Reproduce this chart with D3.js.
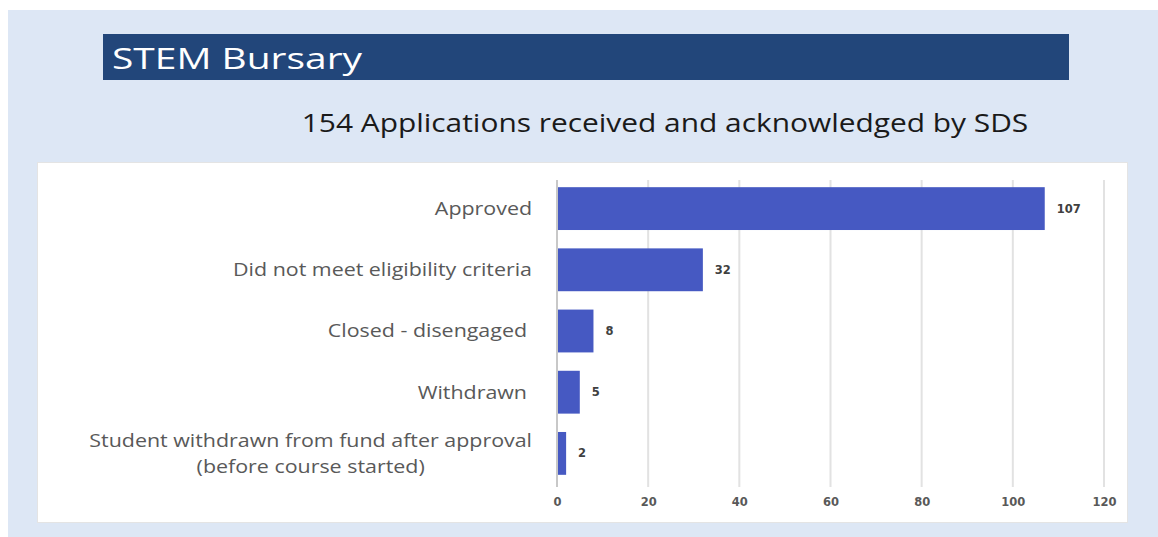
<!DOCTYPE html>
<html>
<head>
<meta charset="utf-8">
<script src="https://cdn.jsdelivr.net/npm/d3@7"></script>
<style>
  body { margin: 0; background: #fff; }
  svg { display: block; }
</style>
</head>
<body>
<script>
// ---- data ----
var categories = [
  "Approved",
  "Did not meet eligibility criteria",
  "Closed - disengaged",
  "Withdrawn",
  "Student withdrawn from fund after approval|(before course started)"
];
var values = [107, 32, 8, 5, 2];
var xTicks = [0, 20, 40, 60, 80, 100, 120];
var titleText = "STEM Bursary";
var subtitleText = "154 Applications received and acknowledged by SDS";

var width = 1158, height = 537;
var barColor = "#4659c2";
var labelColor = "#595959";
var font = "'Open Sans', sans-serif";
var numFont = "'DejaVu Sans', sans-serif";

// the source image is a bit stretched sideways, so text gets a horizontal scale
function stretch(sel, ax, sx) {
  sel.attr("transform", "translate(" + ax + ",0) scale(" + sx + ",1) translate(" + (-ax) + ",0)");
}

var svg = d3.select("body").append("svg")
    .attr("width", width)
    .attr("height", height);

// blue panel
svg.append("rect")
    .attr("x", 8).attr("y", 10)
    .attr("width", width - 8).attr("height", height - 10)
    .attr("fill", "#dde7f5");

// title bar
svg.append("rect")
    .attr("x", 103).attr("y", 34)
    .attr("width", 966).attr("height", 46)
    .attr("fill", "#22467a");

svg.append("text")
    .attr("x", 112).attr("y", 69)
    .attr("fill", "#fff")
    .attr("font-family", font)
    .style("font-size", "29.5px")
    .text(titleText)
    .call(stretch, 112, 1.32);

svg.append("text")
    .attr("x", 665).attr("y", 132)
    .attr("text-anchor", "middle")
    .attr("fill", "#1a1a1a")
    .attr("font-family", font)
    .style("font-size", "26px")
    .text(subtitleText)
    .call(stretch, 665, 1.15);

// white chart box
svg.append("rect")
    .attr("x", 37.5).attr("y", 162.5)
    .attr("width", 1090).attr("height", 360)
    .attr("fill", "#fff")
    .attr("stroke", "#e4e4e4");

// scales
var x = d3.scaleLinear().domain([0, 120]).range([557, 1104]);
var y = d3.scaleBand().domain(categories).range([178, 484]).paddingInner(0.3).paddingOuter(0.15);

// gridlines
svg.append("g").selectAll("line")
    .data(xTicks)
    .join("line")
    .attr("x1", d => x(d)).attr("x2", d => x(d))
    .attr("y1", 180).attr("y2", 487)
    .attr("stroke", d => d === 0 ? "#c8c8c8" : "#e2e2e2")
    .attr("stroke-width", 2);

// x axis labels
var xAxis = svg.append("g")
    .attr("transform", "translate(0,487)")
    .call(d3.axisBottom(x).tickValues(xTicks).tickSize(0).tickPadding(11));
xAxis.select(".domain").remove();
xAxis.selectAll("text")
    .attr("fill", labelColor)
    .attr("font-family", numFont)
    .attr("font-weight", "bold")
    .style("font-size", "11.5px");

// bars
svg.append("g").selectAll("rect")
    .data(values)
    .join("rect")
    .attr("x", x(0) + 1)
    .attr("y", (d, i) => y(categories[i]))
    .attr("width", d => x(d) - x(0) - 1)
    .attr("height", y.bandwidth())
    .attr("fill", barColor);

// value labels
svg.append("g").selectAll("text")
    .data(values)
    .join("text")
    .attr("x", d => x(d) + 12)
    .attr("y", (d, i) => y(categories[i]) + y.bandwidth() / 2 + 4)
    .attr("fill", "#404040")
    .attr("font-family", numFont)
    .attr("font-weight", "bold")
    .style("font-size", "11.5px")
    .text(d => d);

// category labels
var labelSize = 18, labelStretch = 1.19;
var catG = svg.append("g").call(stretch, 532, labelStretch);

categories.forEach(function(d) {
  var lines = d.split("|");
  var cy = y(d) + y.bandwidth() / 2;
  var isShort = (d === "Closed - disengaged" || d === "Withdrawn");
  var endX = isShort ? 532 - 5 / labelStretch : 532;
  var t = catG.append("text")
      .attr("fill", labelColor)
      .attr("font-family", font)
      .style("font-size", labelSize + "px");
  if (lines.length === 1) {
    t.attr("text-anchor", "end").attr("x", endX).attr("y", cy + 6.5).text(d);
  } else {
    // two lines, centred on each other, right edge of the first at endX
    t.attr("text-anchor", "middle");
    var first = t.append("tspan").attr("x", 0).attr("y", cy - 6.3).text(lines[0]);
    var w = first.node().getComputedTextLength();
    var cx = endX - w / 2;
    first.attr("x", cx);
    t.append("tspan").attr("x", cx).attr("y", cy + 19.2).text(lines[1]);
  }
});
</script>
</body>
</html>
